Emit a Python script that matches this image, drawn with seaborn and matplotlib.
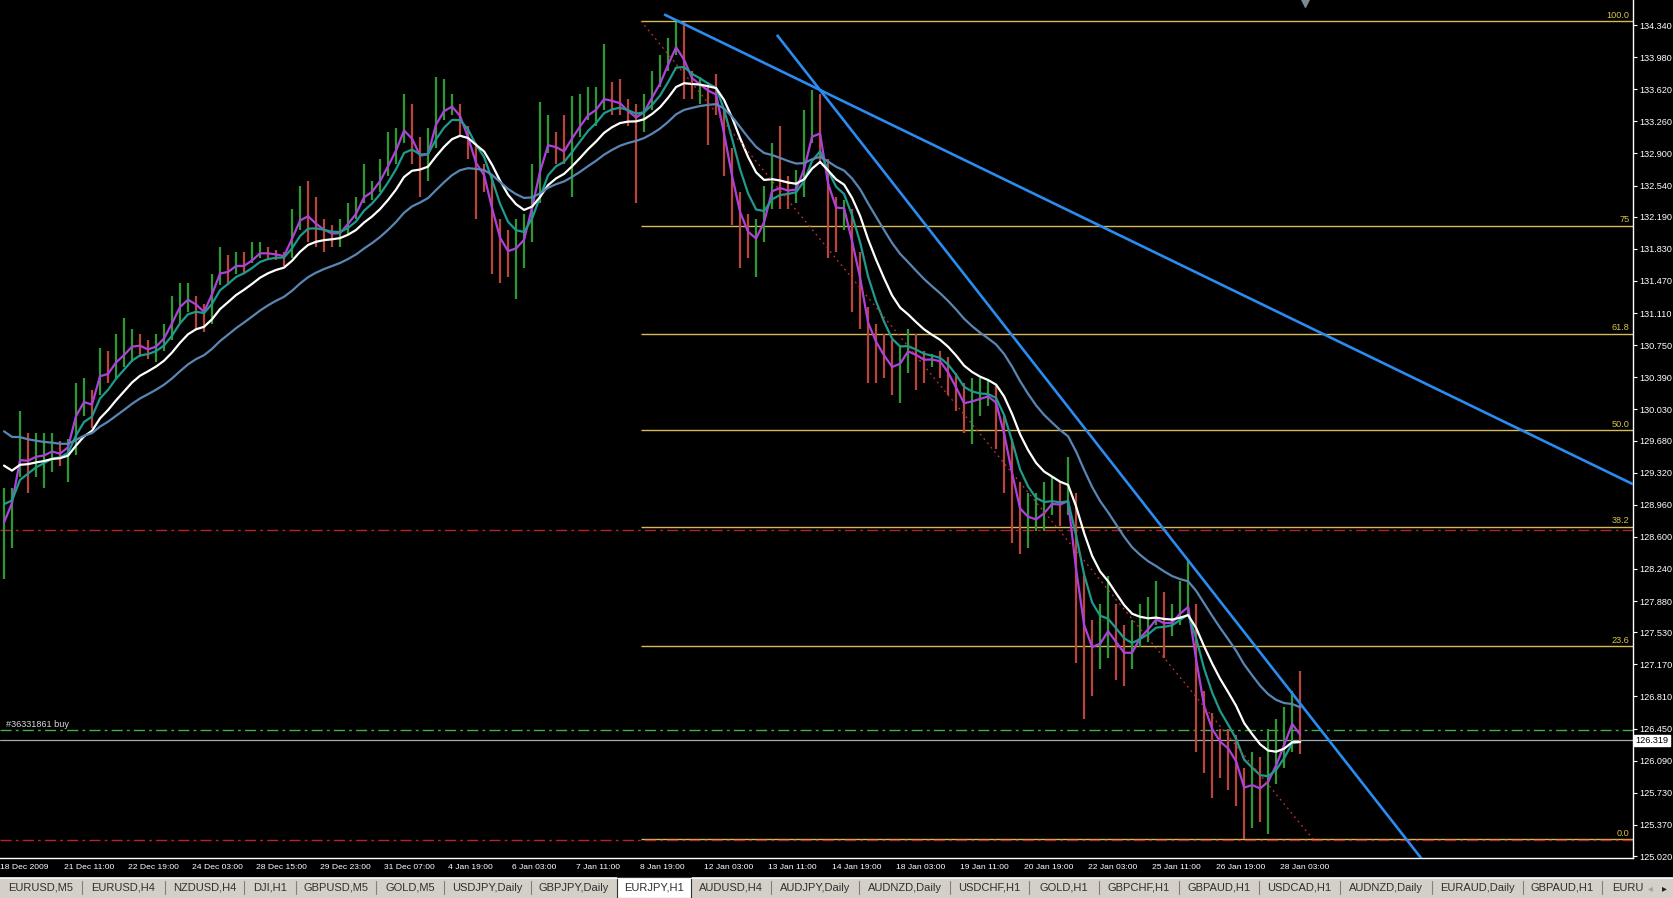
import matplotlib
matplotlib.use("Agg")
import matplotlib.pyplot as plt
from matplotlib import font_manager
from matplotlib.patches import Rectangle
import seaborn as sns
import numpy as np
import pandas as pd

# EURJPY,H1 - one entry per drawn bar
bar_high = [
    129.15, 129.15, 130.01, 129.76, 129.76, 129.76, 129.76, 129.67, 129.70, 130.32,
    130.38, 130.25, 130.72, 130.68, 130.87, 131.05, 130.93, 130.87, 130.81, 130.87,
    130.99, 131.30, 131.45, 131.45, 131.30, 131.21, 131.55, 131.85, 131.76, 131.79,
    131.79, 131.91, 131.91, 131.85, 131.82, 131.79, 132.28, 132.53, 132.59, 132.41,
    132.16,
    132.10, 132.16, 132.34, 132.41, 132.78, 132.59, 132.84, 133.14, 133.18, 133.57,
    133.45, 133.08, 133.18, 133.76, 133.73, 133.57, 133.45, 133.21, 133.02, 132.78,
    132.65, 132.16, 132.04, 132.16, 132.22, 132.78, 133.48, 133.33, 133.14, 133.33,
    133.54, 133.57, 133.64, 133.64, 134.13, 133.70, 133.73, 133.51, 133.45, 133.57,
    133.82,
    134.00, 134.19, 134.37, 134.37, 133.82, 133.76, 133.70, 133.79, 133.39, 132.96,
    132.47, 132.22, 132.16, 132.53, 133.02, 133.21, 132.65, 132.71, 133.39, 133.61,
    133.57, 132.84, 132.41, 132.38, 132.28, 131.79, 131.18, 130.99, 130.87, 130.81,
    130.75, 130.93, 130.87, 130.68, 130.65, 130.68, 130.62, 130.44, 130.32, 130.38,
    130.38, 130.35,
    130.29, 129.95, 129.70, 129.21, 129.09, 129.09, 129.21, 129.27, 129.21, 129.49,
    129.09, 128.16, 127.67, 127.85, 128.16, 127.85, 127.61, 127.67, 127.85, 127.92,
    128.10, 127.98, 127.85, 128.10, 128.35, 127.85, 126.87, 126.62, 126.44, 126.44,
    126.38, 126.01, 126.19, 126.13, 126.44, 126.56, 126.69, 126.87, 127.09,
]
bar_low = [
    128.13, 128.47, 129.27, 129.09, 129.27, 129.15, 129.33, 129.39, 129.21, 129.52,
    129.95, 129.82, 130.19, 130.32, 130.38, 130.50, 130.56, 130.62, 130.59, 130.56,
    130.68, 130.81, 130.99, 131.12, 130.93, 130.90, 130.99, 131.42, 131.42, 131.55,
    131.55, 131.67, 131.73, 131.70, 131.70, 131.64, 131.73, 132.04, 131.91, 131.85,
    131.79,
    131.85, 131.85, 131.98, 132.16, 132.34, 132.38, 132.47, 132.65, 132.78, 133.02,
    132.78, 132.41, 132.59, 132.96, 133.27, 133.33, 133.08, 132.84, 132.16, 132.47,
    131.55, 131.45, 131.51, 131.27, 131.61, 131.91, 132.34, 132.90, 132.78, 132.78,
    132.41, 133.08, 133.27, 133.21, 133.39, 133.33, 133.33, 133.21, 132.34, 133.14,
    133.39,
    133.64, 133.82, 134.00, 133.51, 133.51, 133.45, 132.99, 133.33, 132.65, 132.10,
    131.61, 131.73, 131.51, 131.91, 132.28, 132.28, 132.28, 132.34, 132.41, 133.02,
    132.78, 131.73, 131.79, 132.04, 131.12, 130.93, 130.32, 130.32, 130.38, 130.19,
    130.10, 130.44, 130.25, 130.32, 130.50, 130.38, 130.19, 130.01, 129.76, 129.64,
    129.95, 130.07,
    129.58, 129.09, 128.53, 128.41, 128.47, 128.66, 128.66, 128.84, 128.72, 128.84,
    127.18, 126.56, 126.81, 127.12, 127.24, 126.99, 126.93, 127.12, 127.36, 127.42,
    127.61, 127.24, 127.49, 127.61, 127.73, 126.19, 125.95, 125.67, 125.89, 125.76,
    125.58, 125.21, 125.33, 125.40, 125.27, 125.83, 126.01, 126.19, 126.16,
]
bar_close = [
    128.72, 129.09, 129.70, 129.45, 129.52, 129.52, 129.58, 129.52, 129.64, 130.13,
    130.19, 130.07, 130.56, 130.44, 130.62, 130.68, 130.78, 130.75, 130.68, 130.75,
    130.87, 131.08, 131.27, 131.30, 131.18, 131.08, 131.42, 131.67, 131.58, 131.67,
    131.64, 131.73, 131.82, 131.78, 131.76, 131.74, 132.04, 132.25, 132.22, 132.07,
    132.01,
    131.98, 132.01, 132.16, 132.28, 132.50, 132.50, 132.65, 132.84, 133.02, 133.27,
    133.02, 132.78, 132.90, 133.39, 133.45, 133.45, 133.27, 132.96, 132.65, 132.59,
    132.10, 131.79, 131.73, 131.85, 131.98, 132.47, 132.90, 133.14, 132.96, 132.90,
    133.14, 133.27, 133.39, 133.42, 133.57, 133.48, 133.45, 133.33, 133.27, 133.39,
    133.61,
    133.76, 134.00, 134.19, 133.88, 133.64, 133.64, 133.57, 133.54, 132.90, 132.41,
    132.04, 131.91, 131.91, 132.22, 132.65, 132.53, 132.47, 132.50, 132.84, 133.27,
    133.14, 132.28, 132.16, 132.28, 131.73, 131.30, 130.75, 130.68, 130.56, 130.44,
    130.56, 130.75, 130.62, 130.56, 130.59, 130.56, 130.38, 130.19, 130.01, 130.13,
    130.16, 130.19,
    130.07, 129.58, 129.09, 128.72, 128.78, 128.78, 128.90, 129.02, 128.96, 129.02,
    127.85, 127.30, 127.24, 127.42, 127.61, 127.36, 127.24, 127.30, 127.55, 127.61,
    127.73, 127.61, 127.64, 127.79, 127.85, 126.93, 126.44, 126.32, 126.23, 126.19,
    126.01, 125.64, 125.83, 125.76, 125.89, 126.13, 126.38, 126.62, 126.32,
]

date_labels = ['18 Dec 2009', '21 Dec 11:00', '22 Dec 19:00', '24 Dec 03:00', '28 Dec 15:00',
               '29 Dec 23:00', '31 Dec 07:00', '4 Jan 19:00', '6 Jan 03:00', '7 Jan 11:00',
               '8 Jan 19:00', '12 Jan 03:00', '13 Jan 11:00', '14 Jan 19:00', '18 Jan 03:00',
               '19 Jan 11:00', '20 Jan 19:00', '22 Jan 03:00', '25 Jan 11:00', '26 Jan 19:00',
               '28 Jan 03:00']
price_ticks = [134.340, 133.980, 133.620, 133.260, 132.900, 132.540, 132.190, 131.830,
               131.470, 131.110, 130.750, 130.390, 130.030, 129.680, 129.320, 128.960,
               128.600, 128.240, 127.880, 127.530, 127.170, 126.810, 126.450, 126.090,
               125.730, 125.370, 125.020]

# fibonacci retracement
fib_levels = [100.0, 75.0, 61.8, 50.0, 38.2, 23.6, 0.0]
fib_texts = ['100.0', '75', '61.8', '50.0', '38.2', '23.6', '0.0']
fib_high, fib_low = 134.385, 125.21
fib_bars = [79.6, 163.6]

# trend lines (anchor bar, price), drawn as rays
trend_lines = [[(82.5, 134.46), (203.6, 129.19)],
               [(96.6, 134.23), (177.0, 125.01)]]

stop_levels = [128.68, 125.20]
order_price = 126.43
order_label = '#36331861 buy'
bid_price = 126.319

# moving averages: span (in drawn bars), start value
ma_colors = ['#b040dc', '#1f9a8c', '#ffffff', '#5a86b4']
ma_spans = [2, 5, 10, 21]
ma_seeds = [128.84, 129.09, 129.55, 129.89]

tab_names = ['EURUSD,M5', 'EURUSD,H4', 'NZDUSD,H4', 'DJI,H1', 'GBPUSD,M5', 'GOLD,M5',
             'USDJPY,Daily', 'GBPJPY,Daily', 'EURJPY,H1', 'AUDUSD,H4', 'AUDJPY,Daily',
             'AUDNZD,Daily', 'USDCHF,H1', 'GOLD,H1', 'GBPCHF,H1', 'GBPAUD,H1', 'USDCAD,H1',
             'AUDNZD,Daily', 'EURAUD,Daily', 'GBPAUD,H1', 'EURU']
tab_edges = [0, 82, 165, 244, 296, 376, 444, 531, 617, 691, 771, 859, 950, 1029, 1099,
             1179, 1259, 1340, 1432, 1523, 1602, 1640]
active_tab = 8


def ema(values, span, seed):
    alpha = 2.0 / (span + 1)
    out, m = [], seed
    for v in values:
        m = m + alpha * (v - m)
        out.append(m)
    return out


sns.set_theme(style='dark', rc={'axes.facecolor': 'black', 'figure.facecolor': 'black'})
names = {f.name for f in font_manager.fontManager.ttflist}
narrow = 'Liberation Sans Narrow' in names
axis_font = 'Liberation Sans Narrow' if narrow else 'Liberation Sans'
plt.rcParams['font.family'] = [axis_font, 'DejaVu Sans']
tick_size = 8.0 if narrow else 6.6
date_size = 7.4 if narrow else 6.1

W, H = 1674, 898
fig = plt.figure(figsize=(W / 100, H / 100), dpi=100, facecolor='black')
ax = fig.add_axes([0, 40 / H, 1633 / W, 858 / H])
ax.set_facecolor('black')

x_min, x_max = -0.5, 203.6
y_min, y_max = 124.998, 134.621

df = pd.DataFrame({'bar': np.arange(len(bar_close)), 'high': bar_high,
                   'low': bar_low, 'close': bar_close})
df['open'] = df['close'].shift(1).fillna(df['close'])
df['color'] = np.where(df['close'] >= df['open'], '#2f9a33', '#b8463e')

# fib levels and stop lines first, under the bars
fib_prices = [fib_low + p / 100 * (fib_high - fib_low) for p in fib_levels]
ax.hlines(fib_prices, fib_bars[0], x_max, colors='#d9b85c', linewidth=1.0, zorder=1)
for p, t in zip(fib_prices, fib_texts):
    ax.annotate(t, xy=(0.998, p), xycoords=ax.get_yaxis_transform(), xytext=(0, 1),
                textcoords='offset points', ha='right', va='bottom', color='#d6c24a',
                fontsize=tick_size, zorder=5)
for p in stop_levels:
    ax.axhline(p, color='#b82424', linewidth=1.0, linestyle=(0, (8, 3, 2, 3)), zorder=1)
ax.axhline(order_price, color='#40b048', linewidth=1.0, linestyle=(0, (8, 3, 2, 3)), zorder=1)
ax.axhline(bid_price, color='#a0a8b2', linewidth=0.9, zorder=1)
ax.annotate(order_label, xy=(6 / 1633, order_price), xycoords=ax.get_yaxis_transform(),
            xytext=(0, 1), textcoords='offset points', ha='left', va='bottom',
            color='#d8d8d8', fontsize=tick_size, zorder=5)

# price bars
ax.vlines(df['bar'], df['low'], df['high'], colors=df['color'], linewidth=1.6, zorder=2)

# moving averages
for color, span, seed in zip(ma_colors, ma_spans, ma_seeds):
    col = f'ma{span}'
    df[col] = ema(bar_close, span, seed)
    sns.lineplot(data=df, x='bar', y=col, color=color, linewidth=1.6, ax=ax, zorder=3)

# fib diagonal
ax.plot(fib_bars, [fib_high, fib_low], color='#c83030', linewidth=0.9,
        linestyle=(0, (1.5, 3)), zorder=3)

# trend line rays
for (x0, y0), (x1, y1) in trend_lines:
    slope = (y1 - y0) / (x1 - x0)
    ax.plot([x0, x_max], [y0, y0 + slope * (x_max - x0)], color='#2a8cf0',
            linewidth=1.9, zorder=4, solid_capstyle='butt')

ax.set_xlim(x_min, x_max)
ax.set_ylim(y_min, y_max)

# axes styling like the terminal
for side in ['top', 'left']:
    ax.spines[side].set_visible(False)
for side in ['right', 'bottom']:
    ax.spines[side].set_color('white')
    ax.spines[side].set_linewidth(1.0)

ax.set_yticks(price_ticks)
ax.set_yticklabels([f'{p:.3f}' for p in price_ticks])
ax.yaxis.tick_right()
ax.tick_params(axis='y', direction='out', length=3, width=0.8, colors='white',
               labelsize=tick_size, pad=1.5)
ax.set_xticks([8 * k - 0.5 for k in range(len(date_labels))])
ax.set_xticklabels(date_labels)
ax.tick_params(axis='x', direction='out', length=3, width=0.8, colors='white',
               labelsize=date_size, pad=1)
for lbl in ax.get_xticklabels():
    lbl.set_ha('left')
ax.set_xlabel('')
ax.set_ylabel('')
ax.grid(False)

# current price box
ax.annotate(f'{bid_price:.3f}', xy=(1.0015, bid_price), xycoords=ax.get_yaxis_transform(),
            ha='left', va='center', color='black', fontsize=tick_size,
            bbox=dict(boxstyle='square,pad=0.12', facecolor='white', edgecolor='white'),
            annotation_clip=False, zorder=6)

# chart shift marker
ax.scatter([162.6], [0.997], transform=ax.get_xaxis_transform(), marker='v', s=30,
           color='#7d8a96', zorder=6, clip_on=False)

# tab strip
tx = fig.add_axes([0, 0, 1, 21 / H])
tx.set_xlim(0, W)
tx.set_ylim(0, 21)
tx.axis('off')
tx.add_patch(Rectangle((0, 0), W, 21, facecolor='#d4d0c8', edgecolor='none'))
tx.plot([0, W], [20.5, 20.5], color='#f4f4f4', linewidth=0.8)
for i, name in enumerate(tab_names):
    left, right = tab_edges[i], tab_edges[i + 1]
    if i == active_tab:
        tx.add_patch(Rectangle((left, 0.5), right - left, 20.5, facecolor='white',
                               edgecolor='#303030', linewidth=0.8))
    elif i + 1 != active_tab and i < len(tab_names) - 1:
        tx.plot([right, right], [4, 17], color='#808080', linewidth=0.8)
    ha = 'left' if i == len(tab_names) - 1 else 'center'
    xt = left + 10 if ha == 'left' else (left + right) / 2
    tx.text(xt, 10, name, ha=ha, va='center', color='#303030', fontsize=8,
            family=['Liberation Sans', 'DejaVu Sans'])
tx.text(1650, 10, '\u25c2', ha='center', va='center', color='#a0a0a0', fontsize=7,
        family='DejaVu Sans')
tx.text(1664, 10, '\u25b8', ha='center', va='center', color='#202020', fontsize=7,
        family='DejaVu Sans')

fig.savefig('out.png', dpi=100, facecolor='black')
